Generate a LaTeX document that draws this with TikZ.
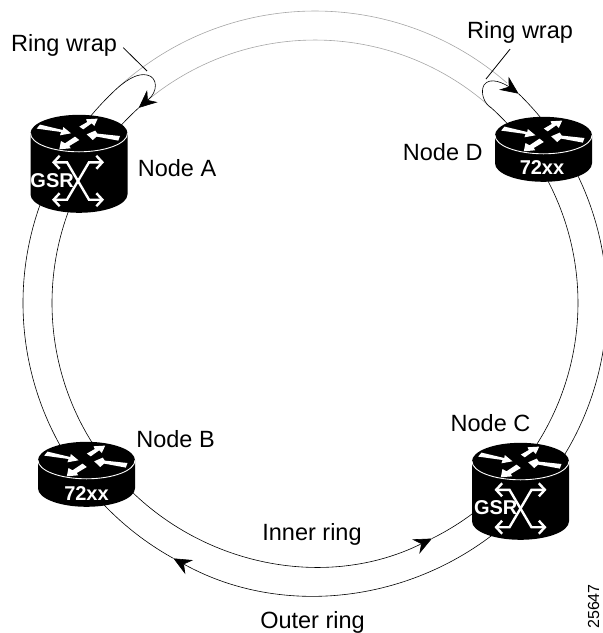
\documentclass[tikz,border=0pt]{standalone}
\usepackage{fontspec}
\setmainfont{Liberation Sans}
\usetikzlibrary{positioning,arrows.meta}

\begin{document}
\begin{tikzpicture}[
        x=1pt,
        y=1pt,
        ring/.style={
            line width=0.6pt
        },
        dimring/.style={
            line width=0.6pt,
            color=black!35
        },
        leader/.style={
            line width=0.8pt
        },
        ringlabel/.style={
            inner sep=0pt,
            font=\fontsize{23.5}{28}\selectfont
        },
        chassis/.style={
            inner sep=0pt,
            text=white,
            font=\fontsize{20}{22}\selectfont\bfseries
        },
        routerbox/.style={
            rectangle,
            inner sep=0pt,
            minimum width=97pt
        },
        wraptip/.tip={Stealth[length=18pt,width=16pt,inset=6pt]},
        crossarrow/.style={
            color=white,
            line width=2.4pt,
            {Straight Barb[length=6pt,width=13pt]}-{Straight Barb[length=6pt,width=13pt]}
        },
        pics/router/.style={
            code={
                \fill (-48.5,0) -- (-48.5,-#1) arc[x radius=48.5pt,y radius=18.5pt,start angle=180,end angle=360]
                    -- (48.5,0) arc[x radius=48.5pt,y radius=18.5pt,start angle=0,end angle=180] -- cycle;
                \draw[white, line width=0.9pt] (-48.5,0) arc[x radius=48.5pt,y radius=18.5pt,start angle=180,end angle=360];
                \fill[white] (-42.3,4.7) -- (-39,8.7) -- (-16.3,3.3) -- (-15.7,6.3) -- (-8,0) -- (-19,-2) -- (-18,1.3) -- cycle;
                \fill[white] (0.3,6.7) -- (8.3,11.3) -- (7,14) -- (18.7,14.7) -- (15.3,7.3) -- (12.7,10) -- (4.3,4) -- cycle;
                \fill[white] (41,-2.7) -- (39.3,-7.3) -- (17.7,-3.3) -- (13.7,-6.7) -- (7.7,-1) -- (16.3,2.7) -- (18.3,-0.3) -- cycle;
                \fill[white] (-4,-3.3) -- (0.3,-6.7) -- (-9.7,-12.7) -- (-8.3,-15) -- (-19.7,-16) -- (-18,-7.7) -- (-14,-10) -- cycle;
            }
        },
        pics/crossbars/.style={
            code={
                \draw[crossarrow] (-26,18.7) -- (-11,18.7) -- (11,-18.7) -- (26,-18.7);
                \draw[crossarrow] (26,18.7) -- (11,18.7) -- (-11,-18.7) -- (-26,-18.7);
            }
        }
    ]
        \clip (0,0) rectangle (603,-633);

        % rings
        \coordinate (ringc) at (315,-303);
        \coordinate (outerA) at ([shift={(132.5:292pt)}]ringc);
        \coordinate (outerD) at ([shift={(48.9:292pt)}]ringc);
        \coordinate (outerH) at ([shift={(45.8:292pt)}]ringc);
        \coordinate (outerS) at ([shift={(241:292pt)}]ringc);
        \coordinate (innerA) at ([shift={(129.4:263pt)}]ringc);
        \coordinate (innerH) at ([shift={(132.1:263pt)}]ringc);
        \coordinate (innerD) at ([shift={(47.8:263pt)}]ringc);
        \coordinate (innerS) at ([shift={(296.4:263pt)}]ringc);

        \draw[dimring] (outerA) arc[radius=292pt,start angle=132.5,end angle=48.9];
        \draw[dimring] (innerA) arc[radius=263pt,start angle=129.4,end angle=47.8];

        \draw[ring, -wraptip] (outerH) arc[radius=292pt,start angle=45.8,end angle=-119];
        \draw[ring] (outerS) arc[radius=292pt,start angle=-119,end angle=-227.5];
        \draw[ring, -wraptip] (innerH) arc[radius=263pt,start angle=132.1,end angle=296.4];
        \draw[ring] (innerS) arc[radius=263pt,start angle=296.4,end angle=407.8];

        % wraps
        \draw[ring, -wraptip] (outerA) .. controls (128,-79) and (138,-73) .. (147,-75)
            .. controls (158,-77) and (158,-92) .. (innerA) -- (innerH);
        \draw[ring, -wraptip] (innerD) .. controls (484,-104) and (480,-92) .. (484,-85)
            .. controls (490,-76) and (505,-84) .. (outerH);

        % routers
        \node[routerbox, minimum height=98pt] (routerA) at (79,-164)     {};
        \node[routerbox, minimum height=65pt] (routerB) at (86.5,-474.5) {};
        \node[routerbox, minimum height=97pt] (routerC) at (520.5,-491.5) {};
        \node[routerbox, minimum height=65pt] (routerD) at (543.5,-149.5) {};

        \pic at ([yshift=-18.5pt]routerA.north) {router=61};
        \pic at ([yshift=-18.5pt]routerB.north) {router=28};
        \pic at ([yshift=-18.5pt]routerC.north) {router=60};
        \pic at ([yshift=-18.5pt]routerD.north) {router=28};

        \pic at ([xshift=-1pt,yshift=-17pt]routerA.center) {crossbars};
        \pic at ([yshift=-17pt]routerC.center) {crossbars};

        \node[chassis] (gsrA)  [right=0pt of routerA.west, yshift=-17pt] {GSR};
        \node[chassis] (gsrC)  [right=2pt of routerC.west, yshift=-16.5pt] {GSR};
        \node[chassis] (typeB) [above=7pt of routerB.south] {72xx};
        \node[chassis] (typeD) [above=8pt of routerD.south, xshift=-1.5pt] {72xx};

        % labels
        \node[ringlabel] (nodeA) [right=10pt of routerA, yshift=-4pt]         {Node A};
        \node[ringlabel] (nodeB) [above right=-6pt and 1pt of routerB]        {Node B};
        \node[ringlabel] (nodeC) [above=11pt of routerC, xshift=-30pt]        {Node C};
        \node[ringlabel] (nodeD) [left=12pt of routerD, yshift=-3pt]          {Node D};

        \node[ringlabel, anchor=base west] (wrapA) at (11,-51.7) {Ring wrap};
        \node[ringlabel, anchor=base west] (wrapD) at (467,-38)  {Ring wrap};
        \node[ringlabel, anchor=base] (innerlabel) at (312,-540)   {Inner ring};
        \node[ringlabel, anchor=base] (outerlabel) at (312.5,-628) {Outer ring};
        \node[inner sep=0pt, rotate=90, anchor=base east, font=\fontsize{16}{18}\selectfont] (figid) at (599,-584) {25647};

        \coordinate (tickA) at (147,-71);
        \coordinate (tickD) at (486,-79);
        \draw[leader] ([xshift=6pt,yshift=-2pt]wrapA.east) -- (tickA);
        \draw[leader] ([xshift=-10pt,yshift=-6pt]wrapD.south) -- (tickD);
    \end{tikzpicture}
\end{document}
